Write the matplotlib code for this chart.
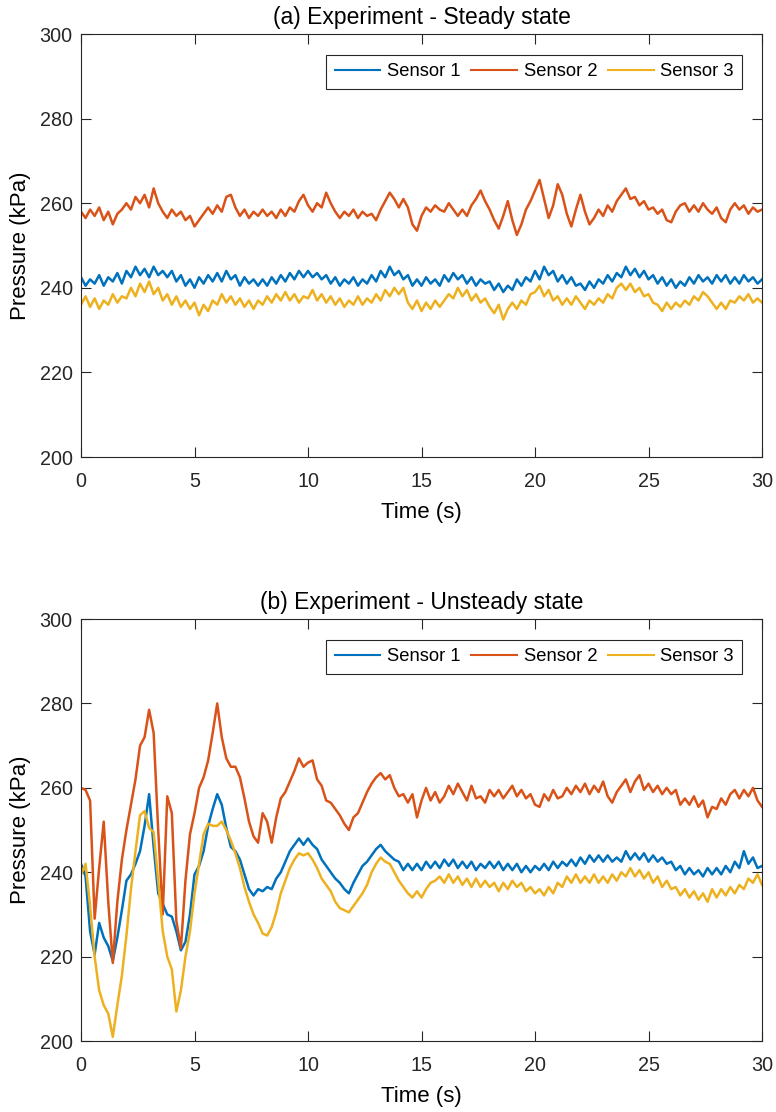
import numpy as np
import matplotlib
matplotlib.use("Agg")
import matplotlib.pyplot as plt

plt.rcParams['font.family'] = ['Liberation Sans', 'DejaVu Sans']

# sample times (s), one reading every 0.2 s
time = np.round(np.linspace(0, 30, 151), 1)

# (a) steady state, pressure in kPa
steady_s1 = [242.5, 240.5, 242, 241, 243, 240.5, 242.5, 241.5, 243.5, 241,
             244, 242.5, 245, 243, 244.5, 242.5, 245, 243, 244, 242.5,
             244, 241.5, 243, 240.5, 242, 240, 242.5, 241, 243, 241.5,
             243.5, 241.5, 244, 242, 243, 240.5, 242.5, 241, 242, 240.5,
             242, 240.5, 242.5, 241, 243, 241.5, 243.5, 242, 244, 242.5,
             244, 242.5, 243.5, 242, 243, 241, 242.5, 240.5, 242, 241,
             242.5, 240.5, 242, 241, 243, 241.5, 244, 242.5, 245, 243,
             244, 242, 243, 240.5, 242, 240.5, 242.5, 241, 242, 240.5,
             243, 241.5, 243.5, 242, 243, 241, 242.5, 240.5, 242, 241,
             241.5, 239.5, 241, 239, 240.5, 239.5, 242, 240.5, 242.5, 241.5,
             244, 242, 245, 243, 244, 241.5, 243, 241, 242.5, 240.5,
             241, 239.5, 241.5, 240, 242, 241, 243, 241.5, 243.5, 242.5,
             245, 243, 244.5, 242.5, 244, 242, 243, 241, 242.5, 240.5,
             242, 240, 241.5, 240.5, 242.5, 241, 243, 241.5, 242.5, 241,
             243, 241.5, 243, 241, 242.5, 241, 243, 241.5, 242.5, 241,
             242]
steady_s2 = [258, 256.5, 258.5, 257, 259, 256, 258, 255, 257.5, 258.5,
             260, 258.5, 261.5, 260, 262, 259, 263.5, 260, 258, 256.5,
             258.5, 257, 258, 256, 257, 254.5, 256, 257.5, 259, 257.5,
             259.5, 258, 261.5, 262, 259, 257, 258.5, 256.5, 258, 257,
             258.5, 257, 258, 256.5, 258.5, 257, 259, 258, 260.5, 262,
             259.5, 258, 260, 259, 262.5, 260, 258, 256.5, 258, 257,
             258.5, 256.5, 258, 257, 257.5, 256, 258.5, 260.5, 262.5, 261,
             259, 261, 259, 255, 253.5, 257, 259, 258, 259.5, 258.5,
             258, 260, 258.5, 257, 258.5, 257, 259.5, 261, 263, 260.5,
             258.5, 256, 254, 257, 260.5, 256, 252.5, 255, 258.5, 260.5,
             263, 265.5, 261, 256.5, 259.5, 264.5, 262, 257.5, 254.5, 258.5,
             262, 258, 255, 256.5, 258.5, 257, 259.5, 258, 260.5, 262,
             263.5, 261, 261.5, 259.5, 260.5, 258.5, 259, 257.5, 258.5, 256,
             255.5, 258, 259.5, 260, 258, 259.5, 258, 260, 258.5, 257.5,
             259, 256.5, 255.5, 258.5, 260, 258.5, 259.5, 257.5, 259, 258,
             258.5]
steady_s3 = [236, 238, 235.5, 237.5, 235, 237, 236, 238.5, 236.5, 238,
             237.5, 240, 238, 241, 239, 241.5, 238.5, 240, 237, 238.5,
             236, 238, 235.5, 237, 235, 236.5, 233.5, 236, 234.5, 237,
             236, 238.5, 236.5, 238, 236, 237.5, 235.5, 237, 235, 237,
             236, 238, 236.5, 238.5, 237, 239, 237, 238.5, 236.5, 238,
             237.5, 239.5, 237, 238.5, 236.5, 238, 236, 237.5, 235.5, 237,
             236, 238, 236, 237.5, 236.5, 238.5, 237, 239.5, 238, 240,
             238.5, 240, 236.5, 235, 237, 234.5, 236.5, 235, 237, 235.5,
             237, 238.5, 237.5, 240, 238, 239.5, 237, 238.5, 236.5, 237.5,
             235.5, 234, 236, 232.5, 235, 236.5, 235, 237, 236, 238.5,
             239, 240.5, 238, 239.5, 237, 238, 236, 237.5, 236, 238,
             236.5, 235, 237, 236, 237.5, 236.5, 238.5, 237.5, 240, 241,
             239.5, 241, 239, 240, 238, 238.5, 236.5, 236, 234.5, 236.5,
             235, 236.5, 235.5, 237, 236, 238, 237, 239, 238, 236.5,
             235, 236.5, 235, 237, 236.5, 238, 237, 238.5, 236.5, 237.5,
             236.5]

# (b) unsteady state, pressure in kPa
unsteady_s1 = [242, 239, 226, 220.5, 228, 224.5, 222.5, 219, 224.5, 231,
               238, 239.5, 242, 245, 251, 258.5, 246, 235, 232.5, 230,
               229.5, 226, 221.5, 223.5, 230, 239.5, 241.5, 245, 251, 255,
               258.5, 256, 250.5, 246, 245, 243, 239.5, 236, 234.5, 236,
               235.5, 236.5, 236, 238.5, 240, 242.5, 245, 246.5, 248, 246.5,
               248, 246.5, 245.5, 243, 241.5, 240, 238.5, 237.5, 236, 235,
               237.5, 239.5, 241.5, 242.5, 244, 245.5, 246.5, 245, 244, 243,
               242.5, 240.5, 242, 240.5, 242, 240.5, 242.5, 241, 242.5, 241,
               243, 241.5, 243, 241, 242.5, 241, 242.5, 240.5, 242, 241,
               242.5, 241, 242.5, 240.5, 242, 240.5, 242, 240, 241.5, 240,
               241.5, 240.5, 242, 240.5, 242.5, 241, 242.5, 241.5, 243, 241.5,
               243.5, 242, 244, 242.5, 244, 242.5, 244, 242.5, 243.5, 242.5,
               245, 243, 244.5, 243, 244.5, 242.5, 244, 242.5, 243.5, 242,
               242.5, 240.5, 241.5, 239.5, 241, 239.5, 240.5, 239, 241, 239.5,
               241, 239.5, 241.5, 240, 242.5, 241, 245, 242, 243.5, 241,
               241.5]
unsteady_s2 = [260, 259.5, 257, 229, 241, 252, 233, 218.5, 233, 243,
               250, 256, 262, 270, 272, 278.5, 273, 250, 230, 258,
               254, 228.5, 222, 238, 249, 254, 260, 262.5, 266.5, 273,
               280, 272, 267, 265, 265, 262.5, 257.5, 252, 248.5, 247,
               254, 252, 247, 253, 257.5, 259, 261.5, 264, 267, 265,
               266, 266.5, 262, 260.5, 257, 256.5, 255, 253.5, 251.5, 250,
               253, 254, 256.5, 259, 261, 262.5, 263.5, 262, 263, 260,
               258, 258.5, 256.5, 258.5, 253, 257, 260, 257, 259, 256.5,
               258, 260.5, 258.5, 261, 259, 257, 260.5, 257.5, 258, 256.5,
               259.5, 258, 259.5, 257.5, 259, 260.5, 258, 259.5, 257.5, 258.5,
               256, 255.5, 258.5, 257, 259.5, 257.5, 258, 260, 258.5, 260.5,
               259, 261, 258.5, 260.5, 259, 261.5, 258, 256.5, 259, 260.5,
               262, 259, 261.5, 263, 259.5, 261, 259, 260.5, 258.5, 260,
               258.5, 259.5, 256, 257.5, 256, 258, 255.5, 257, 253, 255.5,
               255, 257.5, 256, 258.5, 259.5, 257.5, 259.5, 258, 260, 257,
               255.5]
unsteady_s3 = [239.5, 242, 232, 220, 212, 208.5, 206.5, 201, 208.5, 215.5,
               225, 236, 245, 253.5, 254.5, 250.5, 249.5, 238, 226, 220,
               217, 207, 212, 220, 226, 235, 242, 249, 251.5, 251,
               251, 252, 250, 247.5, 244.5, 241, 236.5, 233, 230, 228,
               225.5, 225, 227, 230.5, 235, 238, 241, 243, 244.5, 244,
               244.5, 243, 241, 238.5, 237, 235.5, 233, 231.5, 231, 230.5,
               232, 233.5, 235, 237, 240, 242, 243.5, 242.5, 242, 240,
               238, 236.5, 235, 234, 235.5, 234, 236, 237.5, 238, 239,
               237.5, 239.5, 237.5, 239, 237, 238.5, 236.5, 238.5, 236.5, 238,
               236.5, 237.5, 235.5, 237.5, 236, 238, 236.5, 237.5, 235.5, 236.5,
               235, 236, 234.5, 236.5, 235, 237.5, 236.5, 239, 237.5, 239.5,
               237.5, 239, 237.5, 239.5, 237.5, 239, 237.5, 239.5, 238, 240,
               239, 241, 239, 240.5, 238.5, 240, 237.5, 239, 236.5, 238,
               236, 236.5, 234.5, 236, 234, 235.5, 233.5, 235, 233, 236,
               234, 236, 234.5, 236.5, 235, 237, 236, 238.5, 237.5, 239.5,
               237]

labels = ['Sensor 1', 'Sensor 2', 'Sensor 3']
colors = ['#0072BD', '#D95319', '#EDB120']
panels = [
    ('(a) Experiment - Steady state', [steady_s1, steady_s2, steady_s3]),
    ('(b) Experiment - Unsteady state', [unsteady_s1, unsteady_s2, unsteady_s3]),
]

fig = plt.figure(figsize=(7.76, 11.12), dpi=100)
boxes = [[0.1044, 0.589, 0.8776, 0.3804],
         [0.1044, 0.0638, 0.8776, 0.3795]]

for box, (title, series) in zip(boxes, panels):
    ax = fig.add_axes(box)
    for y, lab, c in zip(series, labels, colors):
        ax.plot(time, y, color=c, lw=1.8, label=lab)
    ax.set_xlim(0, 30)
    ax.set_ylim(200, 300)
    ax.set_xticks(np.arange(0, 31, 5))
    ax.set_yticks(np.arange(200, 301, 20))
    ax.tick_params(direction='in', length=7, width=0.8, top=True, right=True,
                   labelsize=14.2, colors='#262626')
    ax.tick_params(axis='x', pad=11)
    ax.tick_params(axis='y', pad=6)
    for sp in ax.spines.values():
        sp.set_color('#262626')
        sp.set_linewidth(0.8)
    ax.set_title(title, fontsize=16.5, pad=7, color='black')
    ax.set_xlabel('Time (s)', fontsize=16, labelpad=8)
    ax.set_ylabel('Pressure (kPa)', fontsize=16, labelpad=6)
    leg = ax.legend(loc='upper right', ncol=3, fontsize=13.2, frameon=True,
                    fancybox=False, framealpha=1, edgecolor='#262626',
                    borderpad=0.45, borderaxespad=0, handlelength=2.5,
                    columnspacing=0.6, handletextpad=0.35,
                    bbox_to_anchor=(0.9706, 0.950))
    leg.get_frame().set_linewidth(0.8)
    for h in leg.get_lines():
        h.set_linewidth(1.5)

fig.savefig('out.png', dpi=100)
